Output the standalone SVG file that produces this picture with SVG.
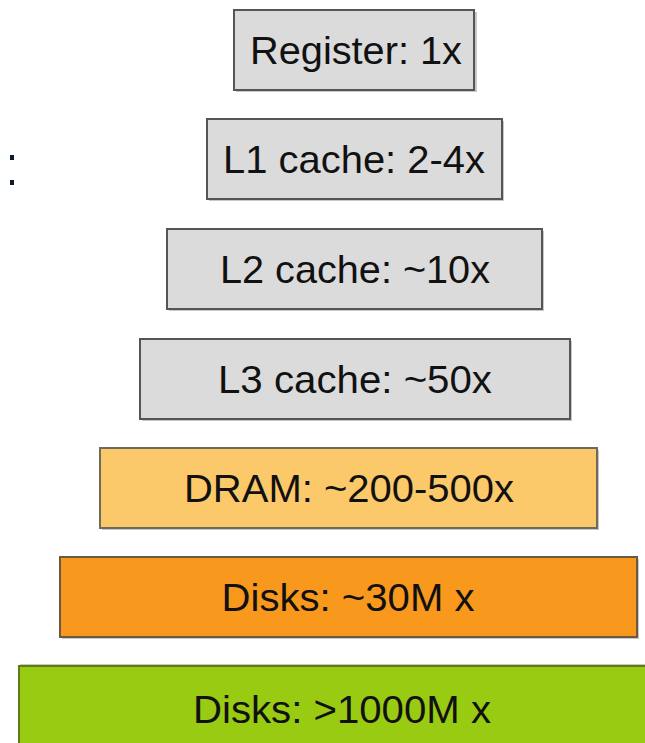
<svg xmlns="http://www.w3.org/2000/svg" width="645" height="743" viewBox="0 0 645 743">
<style>
.box{stroke-width:2}
.gray{fill:#dbdbdb;stroke:#555}
.dram{fill:#fcc96a;stroke:#6e6a5c}
.disk{fill:#f8991d;stroke:#6a5a40}
.green{fill:#99cb12;stroke:#5f7d14}
.shadow{fill:#c8c8c8}
text{font-family:"Liberation Sans",Arial,sans-serif;font-size:39px;fill:#111;text-anchor:middle}
</style>
<rect width="645" height="743" fill="#fff"/>
<g id="dots" fill="#0d1a2a">
<rect x="10" y="155" width="4" height="5"/>
<rect x="10" y="180" width="4" height="5"/>
</g>
<g id="register">
<rect class="shadow" x="236" y="12" width="241" height="80"/>
<rect class="box gray" x="234" y="10" width="240" height="80"/>
<text x="356" y="64" textLength="212" lengthAdjust="spacingAndGlyphs">Register: 1x</text>
</g>
<g id="l1">
<rect class="shadow" x="209" y="121" width="295" height="80"/>
<rect class="box gray" x="207" y="119" width="295" height="80"/>
<text x="354" y="173" textLength="262" lengthAdjust="spacingAndGlyphs">L1 cache: 2-4x</text>
</g>
<g id="l2">
<rect class="shadow" x="169" y="231" width="375" height="80"/>
<rect class="box gray" x="167" y="229" width="375" height="80"/>
<text x="355" y="283" textLength="270" lengthAdjust="spacingAndGlyphs">L2 cache: ~10x</text>
</g>
<g id="l3">
<rect class="shadow" x="142" y="341" width="430" height="80"/>
<rect class="box gray" x="140" y="339" width="430" height="80"/>
<text x="355" y="393" textLength="274" lengthAdjust="spacingAndGlyphs">L3 cache: ~50x</text>
</g>
<g id="dram">
<rect class="shadow" x="102" y="450" width="497" height="80"/>
<rect class="box dram" x="100" y="448" width="497" height="80"/>
<text x="349" y="502" textLength="330" lengthAdjust="spacingAndGlyphs">DRAM: ~200-500x</text>
</g>
<g id="disk30">
<rect class="shadow" x="62" y="559" width="577" height="80"/>
<rect class="box disk" x="60" y="557" width="577" height="80"/>
<text x="348" y="611" textLength="253" lengthAdjust="spacingAndGlyphs">Disks: ~30M x</text>
</g>
<g id="disk1000">
<rect class="shadow" x="20" y="664" width="630" height="85"/>
<rect class="box green" x="19" y="666" width="630" height="85"/>
<text x="342" y="723" textLength="298" lengthAdjust="spacingAndGlyphs">Disks: &gt;1000M x</text>
</g>
<g id="connectors"/>
</svg>
